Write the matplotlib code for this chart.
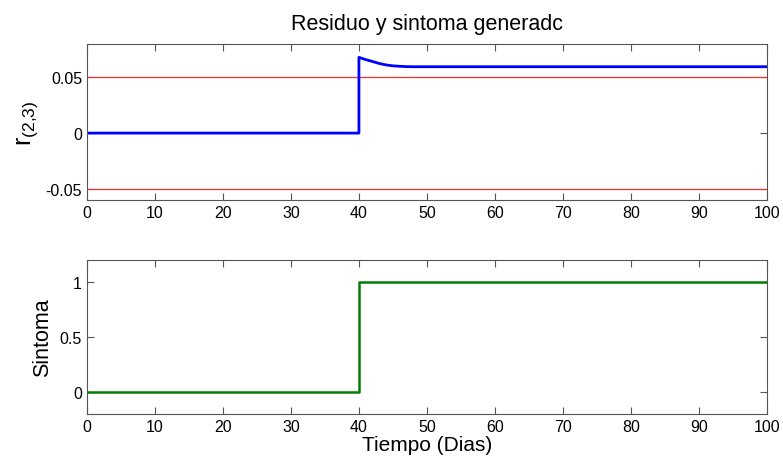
import matplotlib.pyplot as plt

# datos
t_res = [0, 40, 40, 41, 42, 43, 44, 45, 46, 47, 48, 100]
r_23 = [0, 0, 0.068, 0.066, 0.0643, 0.0625, 0.0612, 0.0604, 0.0600, 0.0597, 0.0596, 0.0596]
umbral = [0.05, -0.05]

t_sin = [0, 40, 40, 100]
sintoma = [0, 0, 1, 1]

xticks = list(range(0, 101, 10))

plt.rcParams['font.family'] = ['Liberation Sans', 'DejaVu Sans']
plt.rcParams['axes.edgecolor'] = '#555555'

fig = plt.figure(figsize=(7.83, 4.64), dpi=100)
ax1 = fig.add_axes([0.111, 0.567, 0.8685, 0.336])
ax2 = fig.add_axes([0.111, 0.106, 0.8685, 0.332])

# residuo
for u in umbral:
    ax1.axhline(u, color='#ee3333', lw=0.9)
ax1.plot(t_res, r_23, color='#0000ff', lw=2)
ax1.set_xlim(0, 100)
ax1.set_ylim(-0.06, 0.08)
ax1.set_yticks([-0.05, 0, 0.05])
ax1.set_yticklabels(['-0.05', '0', '0.05'])
ax1.set_ylabel(r'$\mathregular{r_{(2{,}3)}}$', fontsize=18, labelpad=4)
ax1.set_title('Residuo y sintoma generadc', fontsize=15.5, pad=11)

# sintoma
ax2.plot(t_sin, sintoma, color='#007f00', lw=1.8)
ax2.set_xlim(0, 100)
ax2.set_ylim(-0.2, 1.2)
ax2.set_yticks([0, 0.5, 1])
ax2.set_yticklabels(['0', '0.5', '1'])
ax2.set_ylabel('Sintoma', fontsize=15.5, labelpad=5)
ax2.set_xlabel('Tiempo (Dias)', fontsize=15, labelpad=1)

for ax in (ax1, ax2):
    ax.set_xticks(xticks)
    ax.tick_params(direction='in', top=True, right=True, length=5,
                   labelsize=11.5, color='#555555', pad=3.5)

plt.savefig('out.png', dpi=100)
